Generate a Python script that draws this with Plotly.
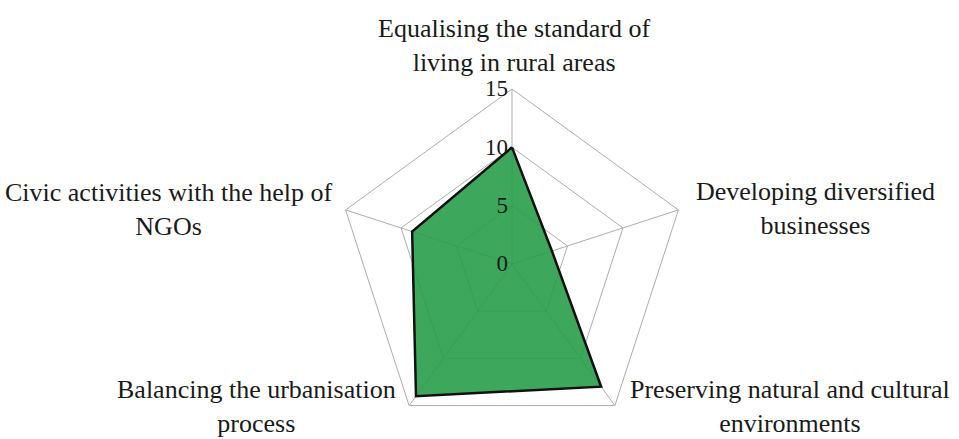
import numpy as np
import plotly.graph_objects as go

# Category labels (clockwise from the top) and their scores
categories = [
    "Equalising the standard of<br>living in rural areas",
    "Developing diversified<br>businesses",
    "Preserving natural and cultural<br>environments",
    "Balancing the urbanisation<br>process",
    "Civic activities with the help of<br>NGOs",
]
scores = [10, 3.6, 13, 14, 9]
radial_ticks = [0, 5, 10, 15]
radial_max = 15

W, H = 959, 439
FONT = "Liberation Serif, Times New Roman, serif"

# Polar area: centre and radius in pixels
cx, cy, R = 512, 264, 175
x_dom = [(cx - R) / W, (cx + R) / W]
y_dom = [0, 2 * (H - cy) / H]

keys = [f"c{i}" for i in range(len(categories))]

fig = go.Figure()
fig.add_trace(go.Scatterpolar(
    r=scores + [scores[0]],
    theta=keys + [keys[0]],
    mode="lines",
    fill="toself",
    fillcolor="rgba(40,158,74,0.9)",
    line=dict(color="#111111", width=2.5),
    hoverinfo="skip",
))

# Category labels placed next to each outer vertex
label_specs = [
    dict(xanchor="center", yanchor="bottom", dx=2, dy=-10),
    dict(xanchor="left", yanchor="middle", dx=16, dy=-1),
    dict(xanchor="left", yanchor="middle", dx=13, dy=1),
    dict(xanchor="right", yanchor="middle", dx=-11, dy=1),
    dict(xanchor="right", yanchor="middle", dx=-12, dy=0),
]
angles = np.deg2rad(np.arange(len(categories)) * 360 / len(categories))
annotations = []
for text, ang, spec in zip(categories, angles, label_specs):
    px = cx + R * np.sin(ang)
    py = cy - R * np.cos(ang)
    annotations.append(dict(
        text=text, x=px / W, y=1 - py / H, xref="paper", yref="paper",
        xanchor=spec["xanchor"], yanchor=spec["yanchor"],
        xshift=spec["dx"], yshift=-spec["dy"],
        align="center", showarrow=False,
        font=dict(family=FONT, size=26, color="#1a1a1a"),
    ))

fig.update_layout(
    width=W, height=H,
    margin=dict(l=0, r=0, t=0, b=0),
    paper_bgcolor="white",
    showlegend=False,
    annotations=annotations,
    polar=dict(
        domain=dict(x=x_dom, y=y_dom),
        bgcolor="white",
        gridshape="linear",
        angularaxis=dict(
            categoryarray=keys, type="category",
            rotation=90, direction="clockwise",
            showticklabels=False, ticks="",
            showline=True, linecolor="#adadad", linewidth=1,
            gridcolor="#adadad", gridwidth=1,
        ),
        radialaxis=dict(
            range=[0, radial_max], tickvals=radial_ticks,
            angle=90, tickangle=90, side="counterclockwise",
            showline=False, ticks="",
            gridcolor="#adadad", gridwidth=1,
            tickfont=dict(family=FONT, size=23, color="#1a1a1a"),
        ),
    ),
)

fig.write_html("out.html")
